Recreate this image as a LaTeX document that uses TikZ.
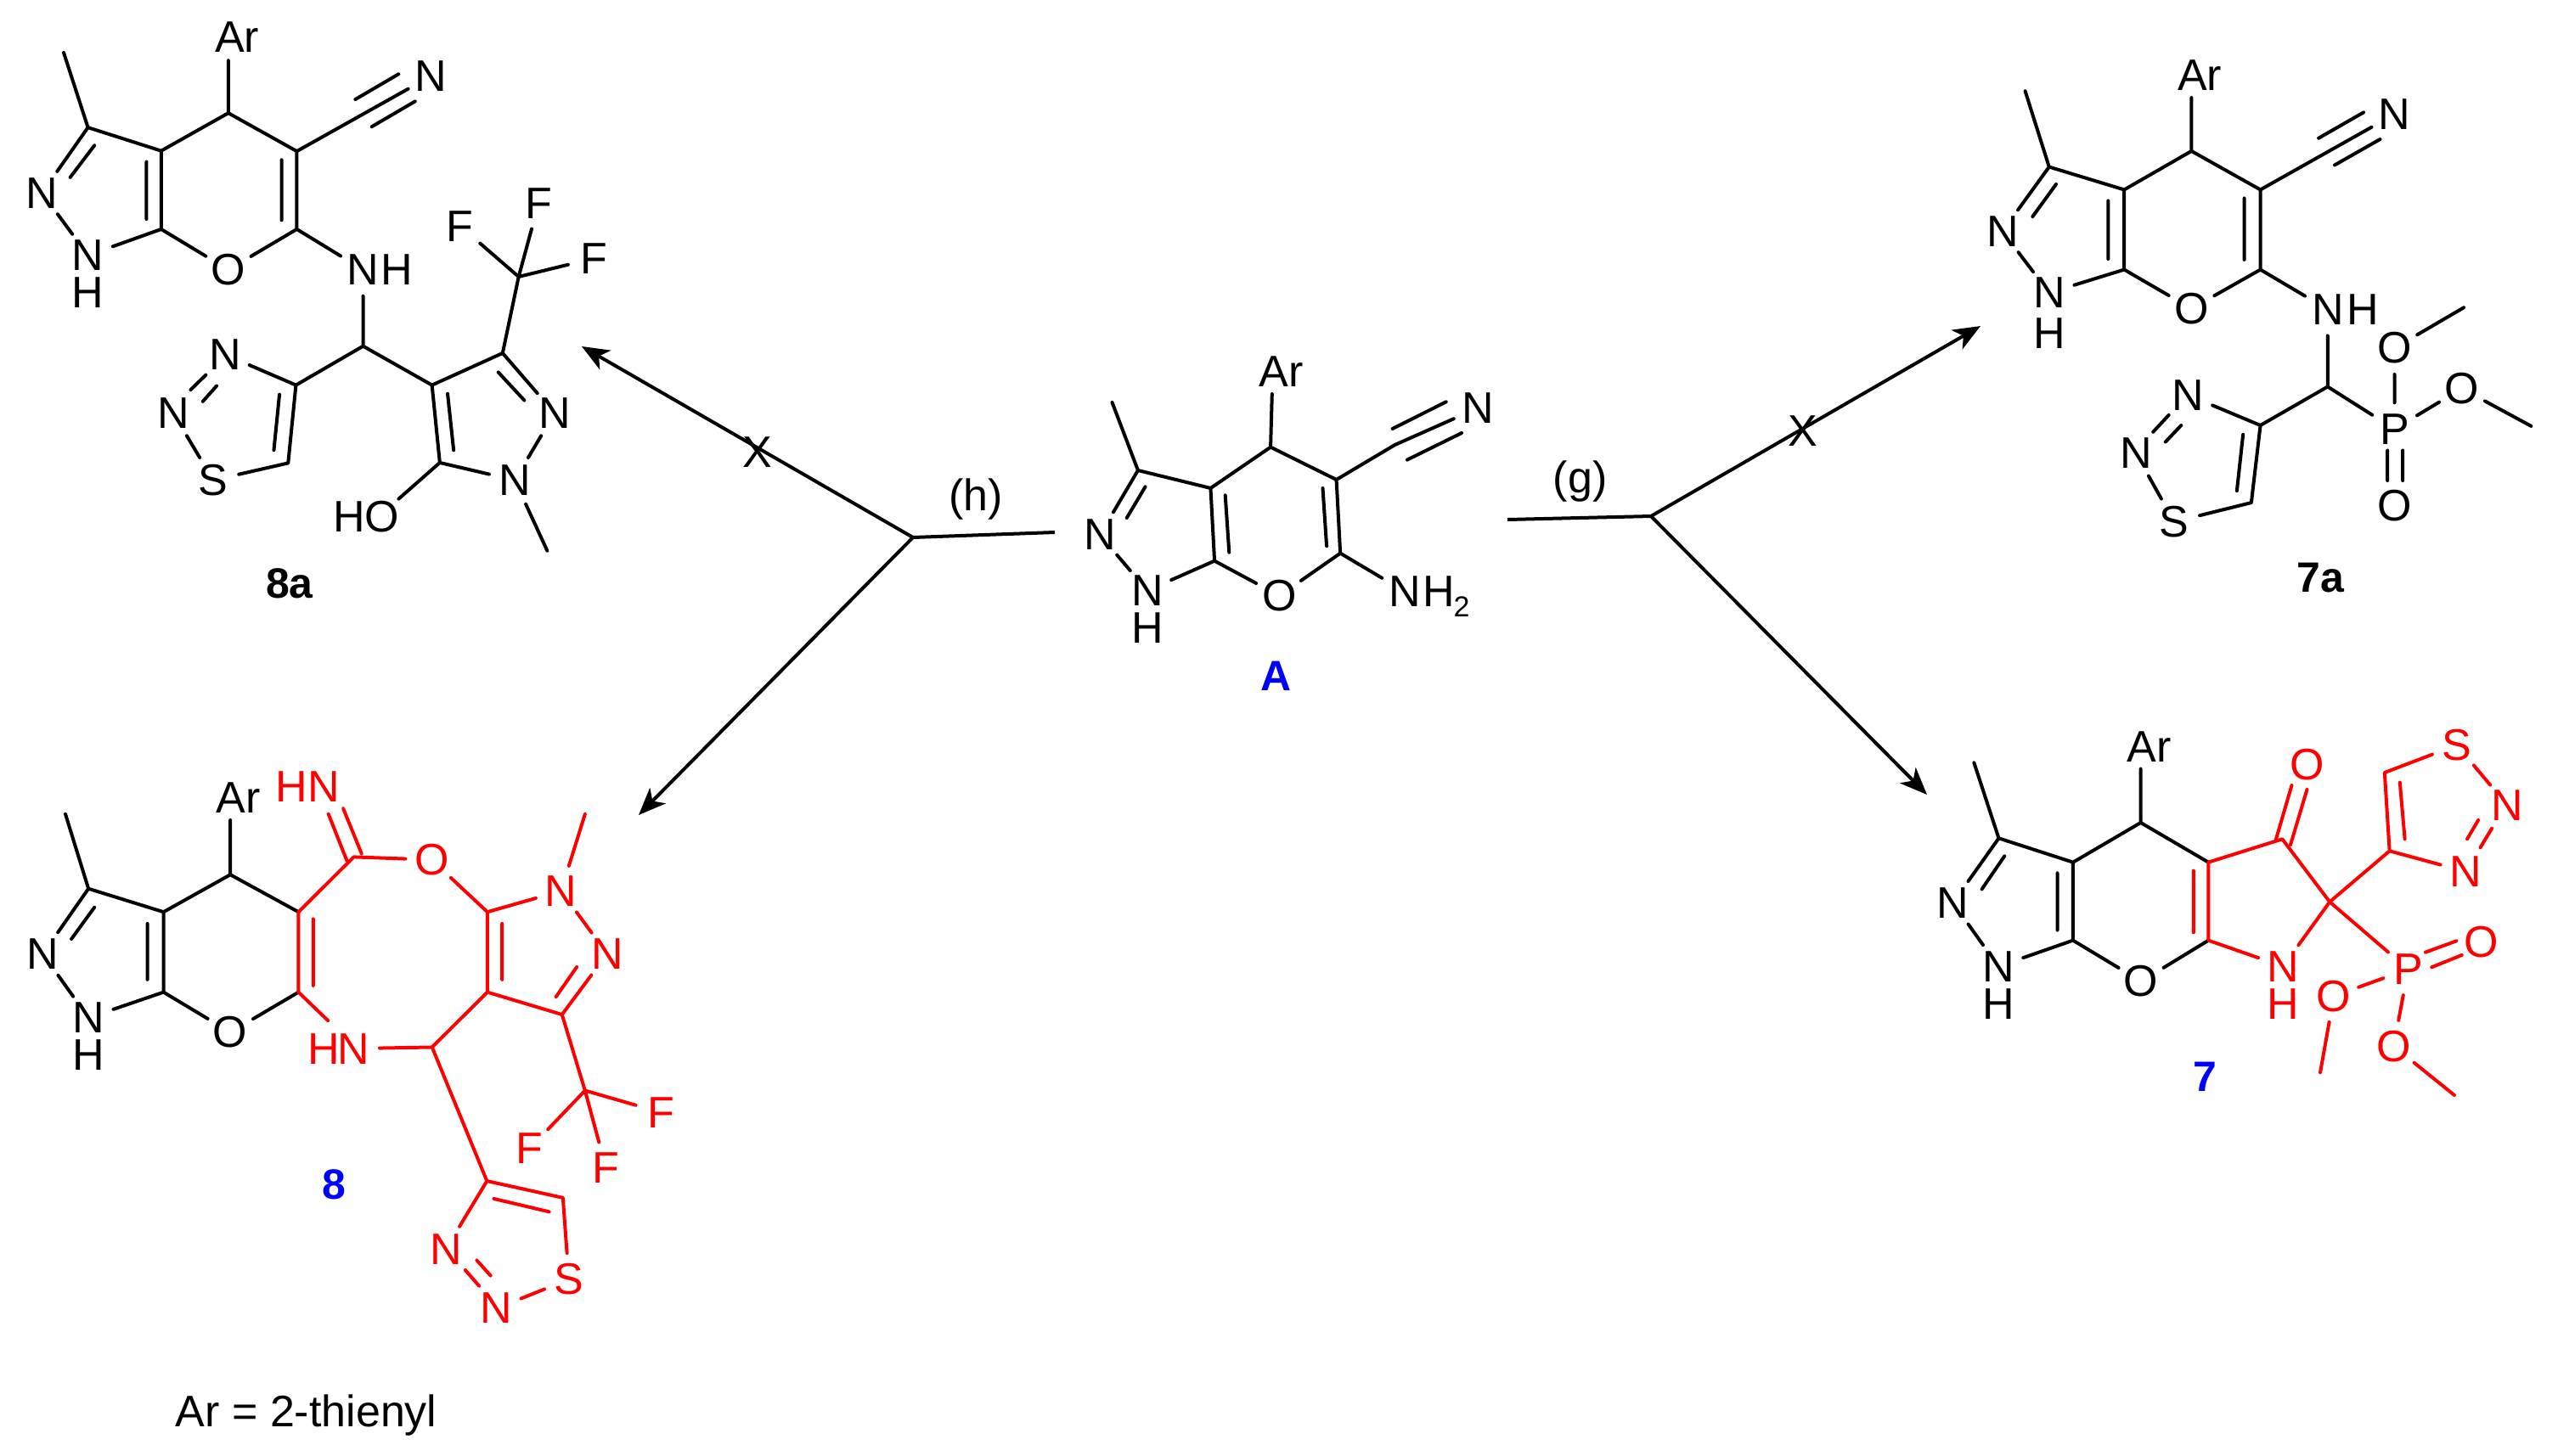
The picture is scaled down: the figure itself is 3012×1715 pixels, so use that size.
\documentclass[tikz,border=0pt]{standalone}
\usepackage{fontspec}
\setmainfont{Liberation Sans}
\usetikzlibrary{arrows.meta}
\definecolor{rd}{RGB}{255,0,0}
\definecolor{bl}{RGB}{0,0,255}
\tikzset{
  atom/.style={shape=circle,inner sep=0pt,minimum size=14.5pt,font=\fontsize{13}{13}\selectfont},
  lbl/.style={inner sep=0pt,font=\fontsize{13}{13}\selectfont},
  cmpd/.style={inner sep=0pt,font=\fontsize{12.5}{13}\selectfont\bfseries},
  bond/.style={line width=1pt,line cap=round,line join=round},
  rxn/.style={line width=1pt,line cap=butt,line join=miter},
  arr/.style={rxn,-{Stealth[length=8pt,width=6.5pt,inset=2.2pt]}}
}
\newcommand{\At}[3]{\node[atom] (#1) at (#2) {#3};}
\newcommand{\Cc}[2]{\coordinate (#1) at (#2);}
\begin{document}
\begin{tikzpicture}[x=0.25pt,y=-0.25pt,every path/.style={bond}]
\useasboundingbox (0,0) rectangle (3012,1715);
% ---------- 8a
\begin{scope}[shift={(0,0)},x=0.12755pt,y=-0.11478pt,name prefix=ea-]
\Cc{me}{147,135}\Cc{c3}{203,327}\Cc{c3a}{372,387}\Cc{c4}{527,290}\Cc{art}{527,155}\Cc{c5}{685,388}\Cc{c6}{685,588}\Cc{c7a}{372,588}
\At{o}{527,692}{O}\At{n1}{203,655}{N}\node[lbl] (h1) at (203,750) {H};\At{n2}{97,495}{N}
\node[lbl] (ar) at (547,95) {Ar};\At{cn}{995,195}{N}
\At{nh}{838,692}{N}\node[lbl] (nhh) at (915,692) {H};\Cc{ch}{838,888}
\Cc{d4}{683,988}\Cc{d5}{665,1188}\At{s}{492,1232}{S}\At{d3}{520,910}{N}\At{d2}{400,1060}{N}
\Cc{p4}{997,988}\Cc{p3}{1160,906}\At{pn2}{1280,1060}{N}\At{pn1}{1188,1232}{N}\Cc{p5}{1015,1187}
\Cc{cf}{1197,710}\At{f1}{1062,580}{F}\At{f2}{1243,522}{F}\At{f3}{1370,663}{F}
\node[lbl] (ho) at (845,1325) {HO};\Cc{hoe}{920,1280}\Cc{nme}{1263,1413}
\draw (me)--(c3)--(n2)--(n1)--(c7a)--(c3a)--(c3) (c3a)--(c4)--(c5)--(c6)--(o)--(c7a) (c4)--(art) (c5)--(cn) (c6)--(nh)--(ch)--(d4) (ch)--(p4);
\draw (d4)--(d5)--(s)--(d2) (d3)--(d4) (p4)--(p3)--(pn2)--(pn1)--(p5)--(p4) (p3)--(cf)--(f1) (cf)--(f2) (cf)--(f3) (p5)--(hoe) (pn1)--(nme);
\draw (218,373)--(162,455) (338,415)--(338,562) (650,410)--(650,565) (820,255)--(920,190) (858,325)--(958,260) (645,1012)--(632,1155) (475,962)--(440,1000) (500,990)--(468,1030) (1033,1010)--(1047,1155) (1150,955)--(1210,1027);
\node[cmpd] (lab) at (668,1497) {8a};
\end{scope}
% ---------- 7a
\begin{scope}[shift={(2250,50)},x=0.12148pt,y=-0.10841pt,name prefix=sa-]
\Cc{me}{277,132}\Cc{c3}{335,338}\Cc{c3a}{517,400}\Cc{c4}{680,295}\Cc{art}{680,150}\Cc{c5}{847,400}\Cc{c6}{847,617}\Cc{c7a}{517,617}
\At{o}{680,723}{O}\At{n1}{335,680}{N}\node[lbl] (h1) at (335,790) {H};\At{n2}{222,513}{N}
\node[lbl] (ar) at (700,90) {Ar};\At{cn}{1172,195}{N}
\At{nh}{1010,725}{N}\node[lbl] (nhh) at (1095,725) {H};\Cc{ch}{1010,935}
\Cc{d4}{847,1040}\Cc{d5}{825,1250}\At{s}{638,1302}{S}\At{d3}{672,958}{N}\At{d2}{545,1115}{N}
\At{p}{1172,1050}{P}\At{o1}{1172,830}{O}\Cc{m1}{1340,720}\At{o2}{1335,940}{O}\Cc{m2}{1503,1042}\At{o3}{1172,1258}{O}
\draw (me)--(c3)--(n2)--(n1)--(c7a)--(c3a)--(c3) (c3a)--(c4)--(c5)--(c6)--(o)--(c7a) (c4)--(art) (c5)--(cn) (c6)--(nh)--(ch)--(d4) (ch)--(p);
\draw (d4)--(d5)--(s)--(d2) (d3)--(d4) (p)--(o1)--(m1) (p)--(o2)--(m2);
\draw (352,385)--(295,473) (478,430)--(478,588) (808,423)--(808,590) (1097,190)--(988,260) (1137,263)--(1027,333) (805,1065)--(790,1218) (625,1012)--(587,1058) (655,1040)--(617,1085) (1155,1108)--(1155,1190) (1192,1108)--(1192,1190);
\node[cmpd] (lab) at (993,1455) {7a};
\end{scope}
% ---------- A
\begin{scope}[shift={(1100,380)},x=0.14351pt,y=-0.08333pt,name prefix=aa-]
\Cc{me}{365,282}\Cc{c3}{418,522}\Cc{c3a}{567,585}\Cc{c4}{690,440}\Cc{art}{693,252}\Cc{c5}{825,555}\Cc{c6}{833,815}\Cc{c7a}{575,842}
\At{o}{708,965}{O}\At{n1}{437,947}{N}\node[lbl] (h1) at (437,1078) {H};\At{n2}{340,750}{N}
\node[lbl] (ar) at (712,172) {Ar};\At{cn}{1115,302}{N}\Cc{cm}{945,432}
\At{nh}{965,950}{N}\node[lbl] (nhh) at (1035,950) {H};\node[lbl,font=\fontsize{8.5}{9}\selectfont] (two) at (1082,1005) {2};
\draw (me)--(c3)--(n2)--(n1)--(c7a)--(c3a)--(c3) (c3a)--(c4)--(c5)--(c6)--(o)--(c7a) (c4)--(art) (c5)--(cm)--(cn) (c6)--(nh);
\draw (433,580)--(395,690) (597,610)--(605,812) (797,585)--(805,790) (1050,280)--(940,375) (1082,390)--(970,485);
\node[cmpd,text=bl] (lab) at (702,1250) {A};
\node[lbl] (h) at (85,625) {(h)};
\node[lbl] (g) at (1325,560) {(g)};
\end{scope}
% ---------- 8
\begin{scope}[shift={(0,860)},x=0.1356pt,y=-0.1373pt,name prefix=e-]
\Cc{me}{142,180}\Cc{c3}{192,340}\Cc{c3a}{355,390}\Cc{c4}{500,310}\Cc{art}{500,193}\Cc{c5}{648,390}\Cc{c6}{648,562}\Cc{c7a}{355,562}
\At{o}{500,648}{O}\At{n1}{192,617}{N}\node[lbl] (h1) at (192,697) {H};\At{n2}{93,480}{N}
\node[lbl] (ar) at (518,145) {Ar};
\begin{scope}[every node/.append style={text=rd}]
\node[lbl] (ihn) at (668,122) {HN};\Cc{ci}{768,272}\At{o2}{937,278}{O}\Cc{b1}{1058,390}\Cc{b2}{1058,562}
\At{mn}{1218,345}{N}\Cc{nme}{1270,180}\At{n3}{1318,480}{N}\Cc{c9}{1220,610}\Cc{ch}{938,680}
\At{hn}{767,683}{N}\node[lbl] (hh) at (703,683) {H};\Cc{hne}{712,623}
\Cc{d4}{1057,967}\Cc{d5}{1222,1003}\At{s}{1235,1178}{S}\At{d3}{1078,1240}{N}\At{d2}{968,1113}{N}
\Cc{cf}{1270,773}\At{f1}{1435,820}{F}\At{f2}{1150,897}{F}\At{f3}{1315,938}{F}
\end{scope}
\draw (me)--(c3)--(n2)--(n1)--(c7a)--(c3a)--(c3) (c3a)--(c4)--(c5) (c6)--(o)--(c7a) (c4)--(art);
\draw (205,380)--(155,448) (320,415)--(320,535);
\begin{scope}[rd]
\draw (c5)--(c6)--(hne) (hn)--(ch)--(b2)--(c9)--(n3)--(mn)--(b1)--(b2) (mn)--(nme) (b1)--(o2)--(ci)--(c5);
\draw (c9)--(cf)--(f1) (cf)--(f2) (cf)--(f3) (ch)--(d4)--(d5)--(s)--(d3) (d2)--(d4);
\draw (680,405)--(680,548) (713,180)--(753,280) (745,168)--(785,265) (1090,415)--(1090,535) (1252,508)--(1207,572) (1072,1005)--(1192,1033) (1035,1137)--(1065,1170) (1010,1158)--(1040,1192);
\end{scope}
\node[cmpd,text=bl] (lab) at (725,975) {8};
\node[lbl] (note) at (665,1470) {Ar = 2-thienyl};
\end{scope}
% ---------- 7
\begin{scope}[shift={(2250,840)},x=0.12148pt,y=-0.08333pt,name prefix=s-]
\Cc{me}{153,175}\Cc{c3}{213,442}\Cc{c3a}{393,527}\Cc{c4}{557,387}\Cc{art}{557,197}\Cc{c5}{721,527}\Cc{c6}{721,803}\Cc{c7a}{393,803}
\At{o}{558,948}{O}\At{n1}{212,895}{N}\node[lbl] (h1) at (212,1028) {H};\At{n2}{102,670}{N}
\node[lbl] (ar) at (578,120) {Ar};
\begin{scope}[every node/.append style={text=rd}]
\Cc{co}{900,445}\At{oc}{960,183}{O}\Cc{sp}{1015,667}\At{nh}{902,895}{N}\node[lbl] (hh) at (902,1028) {H};
\Cc{d4}{1160,487}\Cc{d5}{1148,210}\At{ss}{1323,113}{S}\At{d2}{1445,325}{N}\At{d3}{1345,560}{N}
\At{p}{1205,905}{P}\At{op}{1383,808}{O}\At{o1}{1025,1000}{O}\Cc{m1}{992,1270}\At{o2}{1170,1177}{O}\Cc{m2}{1317,1350}
\end{scope}
\draw (me)--(c3)--(n2)--(n1)--(c7a)--(c3a)--(c3) (c3a)--(c4)--(c5) (c6)--(o)--(c7a) (c4)--(art);
\draw (227,505)--(172,622) (355,565)--(355,767);
\begin{scope}[rd]
\draw (c5)--(c6)--(nh)--(sp)--(co)--(c5) (sp)--(d4)--(d5)--(ss)--(d2) (d4)--(d3) (sp)--(p)--(o1)--(m1) (p)--(o2)--(m2);
\draw (685,557)--(685,775) (923,255)--(885,445) (960,270)--(920,465) (1185,245)--(1197,445) (1375,378)--(1348,445) (1408,407)--(1380,475) (1247,845)--(1322,805) (1262,898)--(1335,855);
\end{scope}
\node[cmpd,text=bl] (lab) at (712,1285) {7};
\end{scope}
% ---------- reaction arrows
\coordinate (hs) at (1242,627);\coordinate (hb) at (1075,633);\coordinate (ht1) at (685,408);\coordinate (ht2) at (752,960);
\coordinate (gs) at (1775,612);\coordinate (gb) at (1944,608);\coordinate (gt1) at (2332,384);\coordinate (gt2) at (2269,936);
\draw[rxn] (hs)--(hb);\draw[arr] (hb)--(ht1);\draw[arr] (hb)--(ht2);
\draw[rxn] (gs)--(gb);\draw[arr] (gb)--(gt1);\draw[arr] (gb)--(gt2);
\node[lbl] (xh) at (892,533) {X};
\node[lbl] (xg) at (2123,508) {X};
\end{tikzpicture}
\end{document}
